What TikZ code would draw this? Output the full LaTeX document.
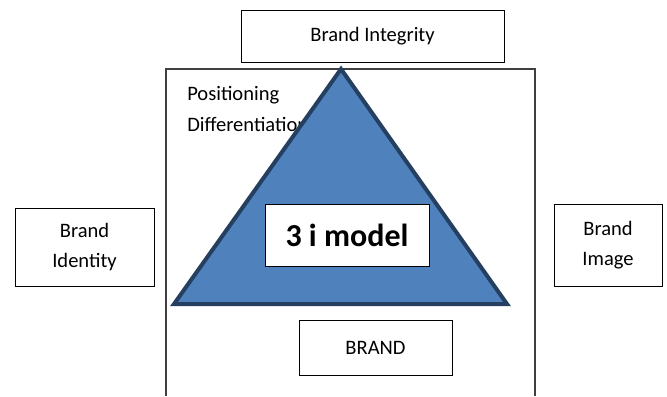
\documentclass[tikz,border=0pt]{standalone}
\usepackage{fontspec}
\setmainfont{Carlito}
\usetikzlibrary{positioning}
\definecolor{triblue}{RGB}{79,129,189}
\definecolor{trinavy}{RGB}{36,63,96}

\begin{document}
\begin{tikzpicture}[x=0.75pt, y=-0.75pt,
    box/.style={draw=black, line width=0.75pt, fill=white, inner sep=0pt, align=center,
                font=\fontsize{15.4}{22}\selectfont},
    tri/.style={draw=trinavy, fill=triblue, line width=3pt, line join=miter}]
    \useasboundingbox (0,0) rectangle (667,396);

    % outer frame, open at the bottom
    \draw[black!75, line width=0.8pt] (166,396) -- (166,69) -- (535,69) -- (535,396);

    % labels inside the frame
    \node[anchor=base west, inner sep=0pt, font=\fontsize{15.4}{22}\selectfont] (pos) at (187,100) {Positioning};
    \node[anchor=base west, inner sep=0pt, font=\fontsize{15.4}{22}\selectfont] (diff) at (187,131) {Differentiation};

    % triangle
    \coordinate (apex) at (341,69);
    \coordinate (baseL) at (174,304);
    \coordinate (baseR) at (507,304);
    \draw[tri] (apex) -- (baseL) -- (baseR) -- cycle;

    % boxes
    \node[box, minimum width=197.25pt, minimum height=39pt] (integrity) at (372.5,36) {Brand Integrity};
    \node[box, minimum width=104.25pt, minimum height=58.5pt] (identity) at (84.5,247) {Brand\\Identity};
    \node[box, minimum width=81pt, minimum height=61.5pt] (image) at (608,245) {Brand\\Image};
    \node[box, minimum width=114.75pt, minimum height=41.25pt] (brand) at (375.5,348) {BRAND};
    \node[box, minimum width=123pt, minimum height=46.5pt, font=\bfseries\fontsize{24}{28}\selectfont] (model) at (347,235) {3 i model};

\end{tikzpicture}
\end{document}
